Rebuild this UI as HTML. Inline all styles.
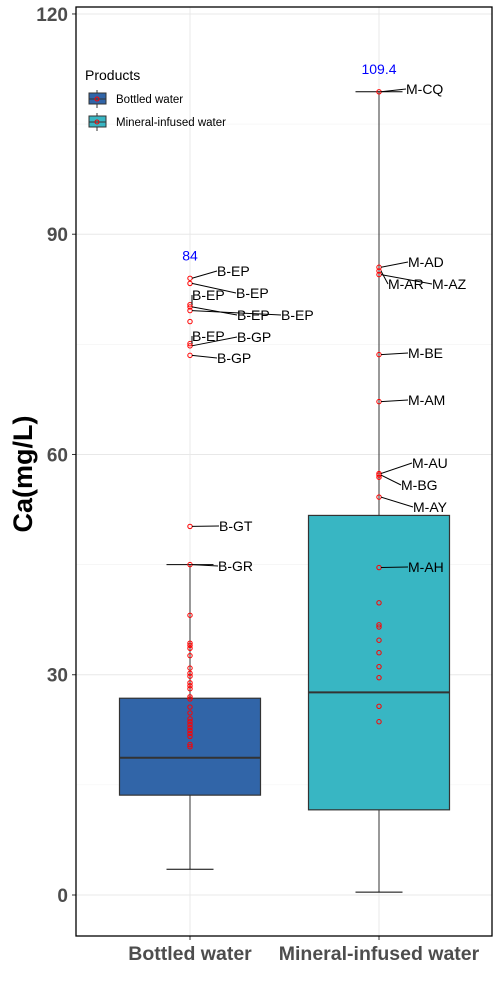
<!DOCTYPE html>
<html><head><meta charset="utf-8"><style>
body{margin:0;background:#fff;}
svg{display:block;font-family:"Liberation Sans",Arial,sans-serif;}
</style></head><body>
<svg id="chart" width="500" height="1000" viewBox="0 0 500 1000"></svg>
<script>
const categories=["Bottled water","Mineral-infused water"];
const fills=["#3165a8","#38b6c3"];
const q1=[13.6,11.6];
const medians=[18.7,27.6];
const q3=[26.8,51.7];
const whiskLow=[3.5,0.4];
const whiskHigh=[45.0,109.4];
const maxLabels=["84","109.4"];
const bottledPts=[84.0,83.3,80.4,80.1,79.6,78.1,75.1,74.8,73.5,50.2,45.0,38.1,34.3,34.0,33.6,32.6,30.9,30.2,29.8,28.9,28.5,28.1,27.0,26.7,25.6,24.8,24.0,23.6,23.2,22.8,22.4,22.0,21.6,20.5,20.2];
const mineralPts=[109.4,85.5,85.0,84.5,73.6,67.2,57.4,57.2,56.9,54.2,44.6,39.8,36.8,36.5,34.7,33.0,31.1,29.6,25.7,23.6];
const bottledLabels=[["B-EP",84.0,217,276],["B-EP",83.3,236,298],["B-EP",80.4,192,300],["B-EP",80.1,237,320],["B-EP",79.6,281,320],["B-EP",75.1,192,341],["B-GP",74.8,237,342],["B-GP",73.5,217,363],["B-GT",50.2,219,531],["B-GR",45.0,218,571]];
const mineralLabels=[["M-CQ",109.4,406,94],["M-AD",85.5,408,267],["M-AR",85.0,388,289],["M-AZ",84.5,432,289],["M-BE",73.6,408,358],["M-AM",67.2,408,405],["M-AU",57.4,412,468],["M-BG",57.2,401,490],["M-AY",54.2,413,512],["M-AH",44.6,408,572]];
const yTicks=[0,30,60,90,120];

const NS="http://www.w3.org/2000/svg";
const svg=document.getElementById('chart');
const L=76,R=492,T=7,B=936;
const y=v=>895-v*7.342;
const xc=i=>[190,379][i];
function mk(tag,attrs,parent){const e=document.createElementNS(NS,tag);for(const k in attrs)e.setAttribute(k,attrs[k]);(parent||svg).appendChild(e);return e;}
for(let v=15;v<=120;v+=30){const g=mk('line',{x1:L,x2:R,y1:y(v),y2:y(v),stroke:'#f2f2f2','stroke-width':0.6});

}
yTicks.forEach(v=>{const g=mk('line',{x1:L,x2:R,y1:y(v),y2:y(v),stroke:'#e8e8e8','stroke-width':1});


const t=mk('text',{x:68,y:y(v)+7,'text-anchor':'end','font-size':19,'font-weight':'bold',fill:'#4d4d4d'});t.textContent=v;


mk('line',{x1:72,x2:L,y1:y(v),y2:y(v),stroke:'#333'});});
categories.forEach((c,i)=>{const g=mk('line',{x1:xc(i),x2:xc(i),y1:T,y2:B,stroke:'#e8e8e8'});

});
const allPts=[bottledPts,mineralPts];
categories.forEach((c,i)=>{const x=xc(i);
const grp=mk('g',{});


mk('line',{x1:x,x2:x,y1:y(whiskHigh[i]),y2:y(whiskLow[i]),stroke:'#333','stroke-width':1},grp);
mk('line',{x1:x-23.5,x2:x+23.5,y1:y(whiskHigh[i]),y2:y(whiskHigh[i]),stroke:'#000','stroke-width':1},grp);
mk('line',{x1:x-23.5,x2:x+23.5,y1:y(whiskLow[i]),y2:y(whiskLow[i]),stroke:'#000','stroke-width':1},grp);
mk('rect',{x:x-70.5,y:y(q3[i]),width:141,height:y(q1[i])-y(q3[i]),fill:fills[i],stroke:'#333','stroke-width':1.2},grp);
mk('line',{x1:x-70.5,x2:x+70.5,y1:y(medians[i]),y2:y(medians[i]),stroke:'#333','stroke-width':2},grp);
const mx=Math.max(...allPts[i]);
const t=mk('text',{x:x,y:y(mx)-18,'text-anchor':'middle','font-size':14,fill:'#0000ff'});t.textContent=maxLabels[i];


const xl=mk('text',{x:x,y:960,'text-anchor':'middle','font-size':19.5,'font-weight':'bold',fill:'#4d4d4d'});xl.textContent=c;


mk('line',{x1:x,x2:x,y1:B,y2:B+4,stroke:'#333'});
});
allPts.forEach((pts,i)=>pts.forEach(v=>{const p=mk('circle',{cx:xc(i),cy:y(v),r:2.2,fill:'none',stroke:'#ff0000','stroke-width':1});

}));
[bottledLabels,mineralLabels].forEach((labs,i)=>labs.forEach(([s,v,lx,ly])=>{
mk('line',{x1:xc(i)+2,y1:y(v),x2:lx,y2:ly-5,stroke:'#000','stroke-width':1});
const t=mk('text',{x:lx,y:ly,'font-size':14,fill:'#000'});t.textContent=s;

}));
const f=mk('rect',{x:L,y:T,width:R-L,height:B-T,fill:'none',stroke:'#000','stroke-width':1.3});


const yt=mk('text',{x:0,y:0,transform:'translate(32,474) rotate(-90)','text-anchor':'middle','font-size':27,'font-weight':'bold',fill:'#000'});yt.textContent='Ca(mg/L)';


const lg=mk('g',{});


const lt=mk('text',{x:85,y:80,'font-size':14,fill:'#000'},lg);lt.textContent='Products';


categories.forEach((c,i)=>{const cy=99+i*23;
const e=mk('g',{},lg);


mk('line',{x1:97,x2:97,y1:cy-9,y2:cy+9,stroke:'#333'},e);
mk('rect',{x:89,y:cy-6,width:17,height:11,fill:fills[i],stroke:'#333'},e);
mk('line',{x1:89,x2:106,y1:cy,y2:cy,stroke:'#333'},e);
mk('circle',{cx:97,cy:cy,r:2,fill:'none',stroke:'#f00'},e);
const t=mk('text',{x:116,y:cy+4,'font-size':11.5,fill:'#000'},e);t.textContent=c;});
</script>
</body></html>
